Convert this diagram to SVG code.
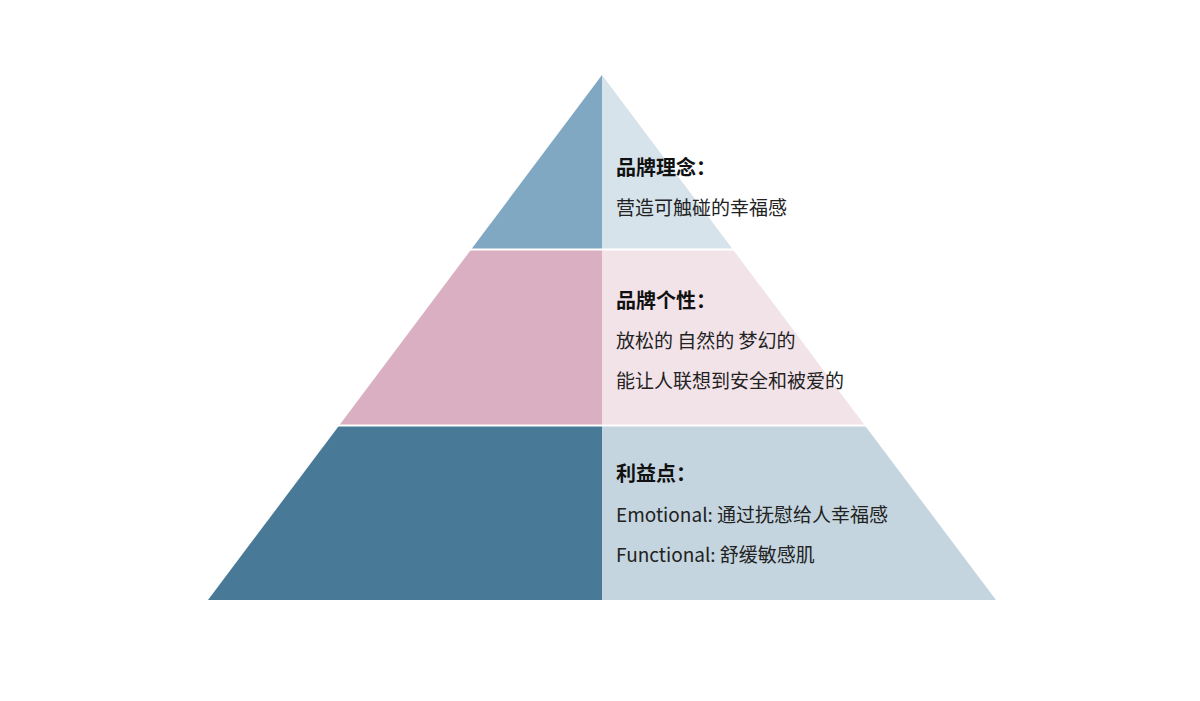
<svg xmlns="http://www.w3.org/2000/svg" width="1200" height="701" viewBox="0 0 1200 701">
<style>
.t{font-family:"Noto Sans CJK SC","Noto Sans",sans-serif;font-size:20px;font-weight:bold;fill:#111}
.b{font-family:"Noto Sans CJK SC","Noto Sans",sans-serif;font-size:19px;fill:#222}
.sep{stroke:#fff;stroke-width:2}
</style>
<rect width="1200" height="701" fill="#fff"/>
<g id="top">
<polygon points="602,75 602,249 471.5,249" fill="#80a8c2"/>
<polygon points="602,75 732.5,249 602,249" fill="#d6e3ea"/>
<text class="t" x="616" y="175">品牌理念：</text>
<text class="b" x="616" y="215">营造可触碰的幸福感</text>
</g>
<g id="middle">
<polygon points="471.5,249 602,249 602,425 339.5,425" fill="#d9afc1"/>
<polygon points="602,249 732.5,249 864.5,425 602,425" fill="#f2e3e9"/>
<text class="t" x="616" y="308">品牌个性：</text>
<text class="b" x="616" y="348">放松的 自然的 梦幻的</text>
<text class="b" x="616" y="388">能让人联想到安全和被爱的</text>
</g>
<g id="bottom">
<polygon points="339.5,425 602,425 602,600 208,600" fill="#487a98"/>
<polygon points="602,425 864.5,425 996,600 602,600" fill="#c4d5df"/>
<text class="t" x="616" y="481">利益点：</text>
<text class="b" x="616" y="522">Emotional: 通过抚慰给人幸福感</text>
<text class="b" x="616" y="562">Functional: 舒缓敏感肌</text>
</g>
<g id="connectors">
<line class="sep" x1="460" y1="249.5" x2="745" y2="249.5"/>
<line class="sep" x1="330" y1="425.5" x2="875" y2="425.5"/>
</g>
</svg>
